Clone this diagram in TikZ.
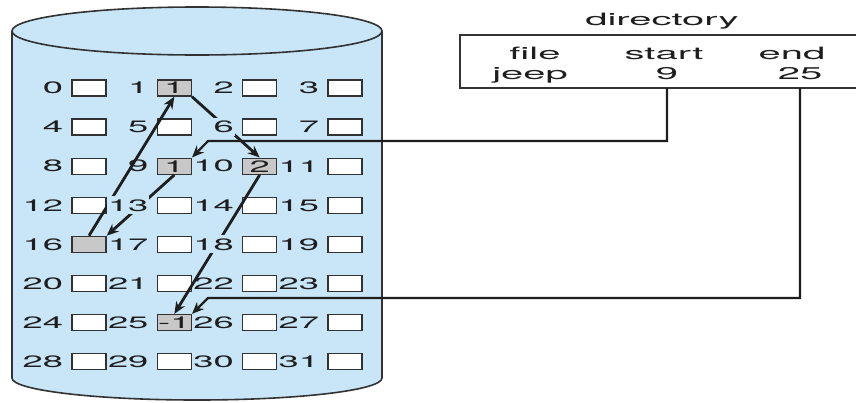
\documentclass[tikz,border=0pt]{standalone}
\usepackage{fontspec}
\setmainfont{TeX Gyre Heros}
\usetikzlibrary{arrows.meta,calc}
\definecolor{cyl}{RGB}{200,230,248}
\definecolor{edge}{RGB}{50,50,50}
\definecolor{shade}{RGB}{200,200,200}
\definecolor{ink}{RGB}{30,30,30}
\newcommand\hstretch[1]{\scalebox{2.2}[1]{#1}}
\newcommand\hstretchb[1]{\scalebox{2.35}[1]{#1}}
\begin{document}
\begin{tikzpicture}[x=1pt,y=-1pt,
  blk/.style={draw=edge, line width=1.4pt, fill=white, minimum width=34pt, minimum height=16pt, inner sep=0pt, font=\fontsize{16.5}{18}\selectfont, text=ink},
  gblk/.style={blk, fill=shade},
  num/.style={font=\fontsize{16.5}{18}\selectfont, text=ink, inner sep=0pt, anchor=east},
  cut/.style={num, fill=cyl, inner ysep=3pt, inner xsep=1pt},
  ptr/.style={draw=ink, line width=2.8pt, -{Stealth[length=12pt,width=10pt]}},
  dptr/.style={draw=ink, line width=2.2pt, -{Stealth[length=12pt,width=10pt]}},
  txt/.style={font=\fontsize{17}{19}\selectfont, text=ink, inner sep=0pt, anchor=base}
]
\useasboundingbox (0,0) rectangle (856,402);
\fill[white] (0,0) rectangle (856,402);
% cylinder
\filldraw[fill=cyl, draw=edge, line width=1.6pt] (12,31) -- (12,378) arc[start angle=180, end angle=0, x radius=185, y radius=22] -- (382,31);
\filldraw[fill=cyl, draw=edge, line width=1.6pt] (197,31) ellipse[x radius=185, y radius=24];
% blocks
\foreach \i/\s/\t in {0/blk/{},1/gblk/1,2/blk/{},3/blk/{},4/blk/{},5/blk/{},6/blk/{},7/blk/{},
  8/blk/{},9/gblk/1,10/gblk/2,11/blk/{},12/blk/{},13/blk/{},14/blk/{},15/blk/{},
  16/gblk/{},17/blk/{},18/blk/{},19/blk/{},20/blk/{},21/blk/{},22/blk/{},23/blk/{},
  24/blk/{},25/gblk/-1,26/blk/{},27/blk/{},28/blk/{},29/blk/{},30/blk/{},31/blk/{}} {
  \pgfmathtruncatemacro\c{mod(\i,4)}
  \pgfmathtruncatemacro\r{div(\i,4)}
  \pgfmathsetmacro\bx{89+85.33*\c}
  \pgfmathsetmacro\by{88+39.1*\r}
  \node[\s] (b\i) at (\bx,\by) {\hstretch{\t}};
}
\foreach \i in {0,1,2,3,4,5,7,8,9,10,11,12,14,15,16,17,19,20,21,22,23,24,25,26,27,28,29,30,31} {
  \node[num] (l\i) at ($(b\i.west)+(-8,0)$) {\hstretch{\i}};
}
% directory
\coordinate (dtl) at (460,35);
\coordinate (dbl) at (460,88);
\draw[draw=edge, line width=2pt] (858,35) -- (dtl) -- (dbl) -- (858,88);
\node[txt] (ttl) at (662,25) {\hstretchb{directory}};
\node[txt] (hfile) at (535,59) {\hstretchb{file}};
\node[txt] (jeep) at (530,79) {\hstretchb{jeep}};
\node[txt] (hstart) at (664,59) {\hstretchb{start}};
\node[txt] (n9) at (667,79) {\hstretchb{9}};
\node[txt] (hend) at (792,59) {\hstretchb{end}};
\node[txt] (n25) at (800,79) {\hstretchb{25}};
% pointers between blocks
\draw[ptr] (b16.north) -- (b1.south);
\draw[ptr] (b1.south east) -- (b10.north);
\draw[ptr] (b10.south) -- (b25.north);
\draw[ptr] (b9.south) -- (b16.north east);
% directory pointers
\coordinate (c1) at (208,141);
\coordinate (c2) at (208,298);
\draw[dptr] (n9 |- dbl) |- (c1) -- (b9.north east);
\draw[dptr] (n25 |- dbl) |- (c2) -- (b25.north east);
% labels that interrupt the pointers
\foreach \i in {6,13,18} {
  \node[cut] (l\i) at ($(b\i.west)+(-7,0)$) {\hstretch{\i}};
}
\end{tikzpicture}
\end{document}
